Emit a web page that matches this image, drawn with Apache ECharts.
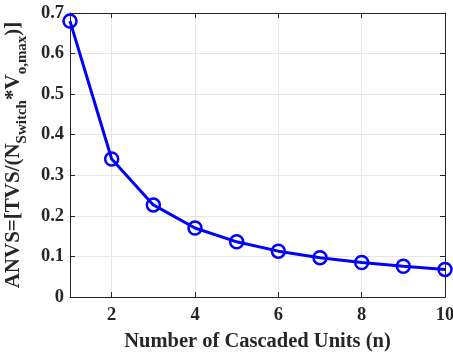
<!DOCTYPE html>
<html>
<head>
<meta charset="utf-8">
<script src="https://cdn.jsdelivr.net/npm/echarts@6/dist/echarts.min.js"></script>
<style>
  html, body { margin: 0; padding: 0; background: #fff; }
  #chart { width: 453px; height: 356px; }
</style>
</head>
<body>
<div id="chart"></div>
<script>
// Number of cascaded units and the normalised voltage stress for each
const units = [1, 2, 3, 4, 5, 6, 7, 8, 9, 10];
const anvs = [0.68, 0.34, 0.227, 0.17, 0.136, 0.113, 0.097, 0.085, 0.076, 0.068];
const xTicks = [2, 4, 6, 8, 10];

const FONT = '"Liberation Serif", "Times New Roman", serif';
const AXIS_COLOR = '#262626';
const GRID_COLOR = '#e6e6e6';

const chart = echarts.init(document.getElementById('chart'), null, { renderer: 'canvas' });

const commonAxis = {
  axisLine: { show: true, onZero: false, lineStyle: { color: AXIS_COLOR, width: 1 } },
  axisTick: { show: true, inside: true, length: 5, lineStyle: { color: AXIS_COLOR } },
  splitLine: { show: true, lineStyle: { color: GRID_COLOR, width: 1 } }
};

chart.setOption({
  animation: false,
  backgroundColor: '#fff',
  grid: { left: 70, right: 8, top: 13, bottom: 59, containLabel: false, outerBoundsMode: 'none' },
  xAxis: [{
    type: 'value', min: 1, max: 10,
    ...commonAxis,
    axisTick: { ...commonAxis.axisTick, customValues: xTicks },
    axisLabel: {
      customValues: xTicks, margin: 9,
      fontFamily: FONT, fontWeight: 'bold', fontSize: 18.5, color: AXIS_COLOR
    },
    name: 'Number of Cascaded Units (n)',
    nameLocation: 'middle', nameGap: 34,
    nameTextStyle: { fontFamily: FONT, fontWeight: 'bold', fontSize: 20.5, color: AXIS_COLOR }
  }, {
    type: 'value', min: 1, max: 10, position: 'top',
    axisLine: commonAxis.axisLine,
    axisTick: { ...commonAxis.axisTick, customValues: xTicks },
    axisLabel: { show: false, customValues: xTicks },
    splitLine: { show: false }
  }],
  yAxis: [{
    type: 'value', min: 0, max: 0.7, interval: 0.1,
    ...commonAxis,
    axisLabel: {
      margin: 6,
      fontFamily: FONT, fontWeight: 'bold', fontSize: 18.5, color: AXIS_COLOR,
      formatter: v => (v === 0 ? '0' : v.toFixed(1))
    },
    name: '{m|ANVS=[TVS/(N}{s|Switch}{m|*V}{s|o,max}{m|)]}',
    nameLocation: 'middle', nameGap: 36, nameRotate: 90,
    nameTextStyle: {
      fontFamily: FONT, fontWeight: 'bold', color: AXIS_COLOR,
      rich: {
        m: { fontFamily: FONT, fontWeight: 'bold', fontSize: 21, lineHeight: 32, verticalAlign: 'middle', color: AXIS_COLOR },
        s: { fontFamily: FONT, fontWeight: 'bold', fontSize: 15, lineHeight: 32, verticalAlign: 'bottom', color: AXIS_COLOR }
      }
    }
  }, {
    type: 'value', min: 0, max: 0.7, interval: 0.1, position: 'right',
    axisLine: commonAxis.axisLine,
    axisTick: commonAxis.axisTick,
    axisLabel: { show: false },
    splitLine: { show: false }
  }],
  series: [{
    type: 'line',
    xAxisIndex: 0, yAxisIndex: 0,
    data: units.map((u, i) => [u, anvs[i]]),
    symbol: 'circle', symbolSize: 13,
    itemStyle: { color: 'rgba(0,0,255,0)', borderColor: '#0000ff', borderWidth: 2.5 },
    lineStyle: { color: '#0000ff', width: 3 },
    clip: false,
    z: 5
  }]
});
</script>
</body>
</html>
